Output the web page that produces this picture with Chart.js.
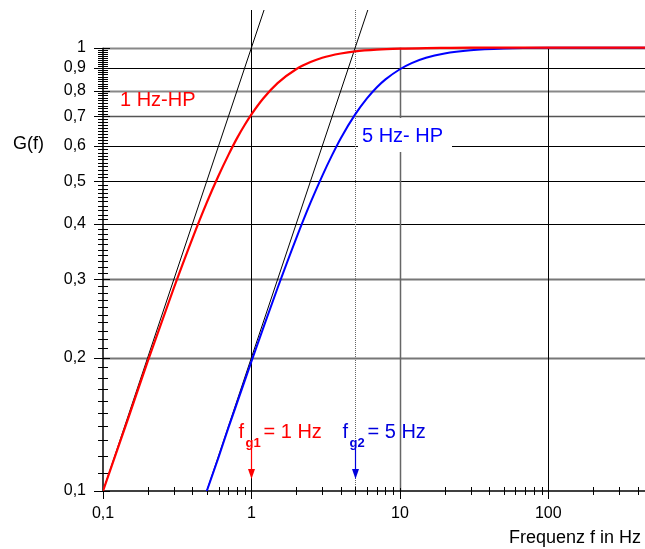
<!DOCTYPE html>
<html>
<head>
<meta charset="utf-8">
<script src="https://cdn.jsdelivr.net/npm/chart.js@4"></script>
<style>
  html, body { margin: 0; padding: 0; background: #fff; }
  canvas { display: block; }
</style>
</head>
<body>
<canvas id="hpChart" width="645" height="549"></canvas>
<script>
// Frequenzgang 1 Hz / 5 Hz Hochpass
const freqRed = [0.1, 0.15, 0.2, 0.3, 0.4, 0.5, 0.6, 0.7, 0.8, 0.9, 1, 1.2, 1.5, 2, 2.5, 3, 4, 5, 7, 10, 15, 20, 30, 50, 100, 448];
const gainRed = [0.100, 0.148, 0.196, 0.287, 0.371, 0.447, 0.514, 0.573, 0.625, 0.669, 0.707, 0.768, 0.832, 0.894, 0.928, 0.949, 0.970, 0.981, 0.990, 0.995, 0.998, 0.999, 1.0, 1.0, 1.0, 1.0];

const freqBlue = [0.5, 0.6, 0.7, 0.8, 1, 1.2, 1.5, 2, 2.5, 3, 3.5, 4, 5, 6, 7, 8, 10, 12, 15, 20, 30, 50, 100, 448];
const gainBlue = [0.100, 0.119, 0.139, 0.158, 0.196, 0.233, 0.287, 0.371, 0.447, 0.514, 0.573, 0.625, 0.707, 0.768, 0.814, 0.848, 0.894, 0.923, 0.949, 0.970, 0.986, 0.995, 0.999, 1.0];

// Asymptoten (Steigung 1 im log-log Diagramm)
const asym1Freq = [0.1, 1.216];
const asym2Freq = [0.5, 6.08];
const asymGain = [0.1, 1.216];

// Achsen
const xTickValues = [0.1, 1, 10, 100];
const yTickValues = [0.1, 0.2, 0.3, 0.4, 0.5, 0.6, 0.7, 0.8, 0.9, 1];
const cutoffFreqs = [1, 5];

const FONT = 'Arial, "Liberation Sans", sans-serif';
const pts = (xs, ys) => xs.map((x, i) => ({ x: x, y: ys[i] }));
const fmt = v => String(Math.round(v * 10) / 10).replace('.', ',');

function line(ctx, x1, y1, x2, y2) {
  ctx.beginPath(); ctx.moveTo(x1, y1); ctx.lineTo(x2, y2); ctx.stroke();
}

// Raster, Achsen, Teilstriche
const gridPlugin = {
  id: 'hpGrid',
  beforeDatasetsDraw(chart) {
    const { ctx, scales: { x, y }, chartArea: a } = chart;
    const x0 = x.getPixelForValue(0.1), y0 = y.getPixelForValue(0.1), y1 = y.getPixelForValue(1);
    ctx.save();

    const hStyle = { 1: ['#888', 2], 0.9: ['#000', 1], 0.8: ['#888', 2], 0.7: ['#555', 1.5], 0.3: ['#777', 2], 0.2: ['#777', 2] };
    yTickValues.forEach(v => {
      if (v === 0.1) return;
      const py = Math.round(y.getPixelForValue(v)) + 0.5;
      const st = hStyle[v] || ['#000', 1];
      ctx.strokeStyle = st[0]; ctx.lineWidth = st[1];
      line(ctx, x0, py, a.right, py);
    });

    // vertikale Linien
    ctx.lineWidth = 1;
    let px = Math.round(x.getPixelForValue(1)) + 0.5;
    ctx.strokeStyle = '#000'; line(ctx, px, y0, px, a.top);
    px = Math.round(x.getPixelForValue(5)) + 0.5;
    ctx.strokeStyle = '#666'; ctx.setLineDash([1, 1]); line(ctx, px, y0, px, a.top); ctx.setLineDash([]);
    px = Math.round(x.getPixelForValue(10)) + 0.5;
    ctx.strokeStyle = '#666'; ctx.lineWidth = 1.5; line(ctx, px, y0, px, y1);
    px = Math.round(x.getPixelForValue(100)) + 0.5;
    ctx.strokeStyle = '#000'; ctx.lineWidth = 1; line(ctx, px, y0, px, y1);

    // Achsenlinien
    ctx.strokeStyle = '#000'; ctx.lineWidth = 1.5;
    line(ctx, x0, y0, x0, y1);
    line(ctx, x0, y0, a.right, y0);

    // y-Teilstriche
    ctx.lineWidth = 1;
    for (let k = 11; k < 100; k++) {
      if (k % 10 === 0) continue;
      const py = Math.round(y.getPixelForValue(k / 100)) + 0.5;
      line(ctx, x0 - 5, py, x0 + 5, py);
    }
    yTickValues.forEach(v => {
      const py = Math.round(y.getPixelForValue(v)) + 0.5;
      line(ctx, x0 - 9, py, x0 + 7, py);
    });

    // x-Teilstriche
    [0.1, 1, 10, 100].forEach(d => {
      for (let k = 2; k <= 9; k++) {
        const v = k * d;
        if (v > x.max) break;
        const p = Math.round(x.getPixelForValue(v)) + 0.5;
        line(ctx, p, y0 - 4, p, y0 + 4);
      }
    });
    xTickValues.forEach(v => {
      const p = Math.round(x.getPixelForValue(v)) + 0.5;
      line(ctx, p, y0 - 3, p, y0 + 8);
    });

    // weisser Hintergrund fuer die blaue Beschriftung
    ctx.fillStyle = '#fff';
    ctx.fillRect(358, 118, 94, 34);
    ctx.restore();
  },
  afterDatasetsDraw(chart) {
    const { ctx, scales: { x, y } } = chart;
    const y0 = y.getPixelForValue(0.1);
    ctx.save();
    ctx.textBaseline = 'alphabetic';
    ctx.textAlign = 'left';

    ctx.font = '20px ' + FONT;
    ctx.fillStyle = '#ff0000';
    ctx.fillText('1 Hz-HP', 120, 106);
    ctx.fillStyle = '#0000ff';
    ctx.fillText('5 Hz- HP', 362, 142);

    ctx.fillStyle = '#000';
    ctx.font = '18px ' + FONT;
    ctx.fillText('G(f)', 13, 149);
    ctx.textAlign = 'right';
    ctx.fillText('Frequenz f in Hz', 641, 543);
    ctx.textAlign = 'left';

    // Grenzfrequenzen mit Pfeilen
    const colors = ['#ff0000', '#0000dd'];
    const subs = ['g1', 'g2'];
    cutoffFreqs.forEach((fg, i) => {
      const px = Math.round(x.getPixelForValue(fg)) + 0.5;
      const lx = px - 13;
      ctx.fillStyle = colors[i]; ctx.strokeStyle = colors[i];
      ctx.font = '20px ' + FONT;
      ctx.fillText('f', lx, 438);
      ctx.font = 'bold 13px ' + FONT;
      ctx.fillText(subs[i], lx + 7, 447);
      ctx.font = '20px ' + FONT;
      ctx.fillText('= ' + fg + ' Hz', lx + 25, 438);

      ctx.lineWidth = 1.2;
      line(ctx, px, 449, px, y0 - 20);
      ctx.beginPath();
      ctx.moveTo(px - 3.5, y0 - 22);
      ctx.lineTo(px + 3.5, y0 - 22);
      ctx.lineTo(px, y0 - 12);
      ctx.closePath();
      ctx.fill();
    });
    ctx.restore();
  }
};

new Chart(document.getElementById('hpChart'), {
  type: 'line',
  data: {
    datasets: [
      { data: pts(freqRed, gainRed), borderColor: '#ff0000', borderWidth: 2.2, order: 1 },
      { data: pts(freqBlue, gainBlue), borderColor: '#0000ff', borderWidth: 2, order: 1 },
      { data: pts(asym1Freq, asymGain), borderColor: '#000', borderWidth: 1, order: 2 },
      { data: pts(asym2Freq, asymGain), borderColor: '#000', borderWidth: 1, order: 2 }
    ]
  },
  options: {
    responsive: false,
    animation: false,
    devicePixelRatio: 1,
    layout: { padding: { top: 10, right: 0, left: 0, bottom: 0 } },
    elements: {
      point: { radius: 0 },
      line: { cubicInterpolationMode: 'monotone', fill: false }
    },
    plugins: { legend: { display: false }, tooltip: { enabled: false } },
    scales: {
      x: {
        type: 'logarithmic', min: 0.1, max: 448, bounds: 'data',
        afterBuildTicks: s => { s.ticks = xTickValues.map(v => ({ value: v })); },
        afterFit: s => { s.height = 58; s.paddingLeft = 0; s.paddingRight = 0; },
        grid: { display: false, drawTicks: false },
        border: { display: false },
        ticks: { padding: 13, color: '#000', autoSkip: false, maxRotation: 0, font: { family: FONT, size: 16 }, callback: v => fmt(v) }
      },
      y: {
        type: 'logarithmic', min: 0.1, max: 1.216, bounds: 'data',
        afterBuildTicks: s => { s.ticks = yTickValues.map(v => ({ value: v })); },
        afterFit: s => { s.width = 103; s.paddingTop = 0; s.paddingBottom = 0; },
        grid: { display: false, drawTicks: false },
        border: { display: false },
        ticks: { padding: 17, color: '#000', autoSkip: false, font: { family: FONT, size: 16 }, callback: v => fmt(v) }
      }
    }
  },
  plugins: [gridPlugin]
});
</script>
</body>
</html>
